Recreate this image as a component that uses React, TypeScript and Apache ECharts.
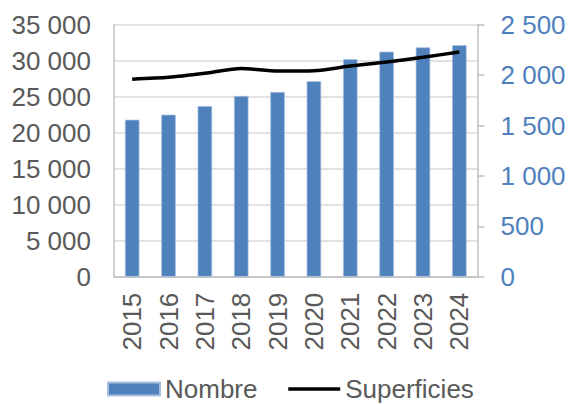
import React, { useEffect, useRef } from "react";
import * as echarts from "echarts";

const years = ["2015", "2016", "2017", "2018", "2019", "2020", "2021", "2022", "2023", "2024"];
const nombre = [21800, 22500, 23700, 25100, 25650, 27150, 30200, 31250, 31850, 32150];
const superficies = [1960, 1978, 2018, 2066, 2041, 2044, 2090, 2130, 2177, 2229];

const fmt = (v: number) => String(v).replace(/\B(?=(\d{3})+(?!\d))/g, " ");

export default function App() {
  const ref = useRef<HTMLDivElement>(null);
  useEffect(() => {
    if (!ref.current) return;
    const chart = echarts.init(ref.current, null, { renderer: "svg" });
    const font = "'Liberation Sans', Arial, sans-serif";
    chart.setOption({
      animation: false,
      textStyle: { fontFamily: font },
      grid: { left: 114, right: 91.5, top: 24.7, bottom: 127.3, containLabel: false },
      legend: {
        left: 107,
        top: 376,
        padding: 0,
        itemWidth: 52,
        itemHeight: 13,
        itemGap: 29,
        textStyle: { fontSize: 26, lineHeight: 26, color: "#595959", fontFamily: font },
        data: [
          { name: "Nombre", icon: "rect" },
          { name: "Superficies", itemStyle: { opacity: 0 }, lineStyle: { color: "#000", width: 3.5 } },
        ],
      },
      xAxis: {
        type: "category",
        data: years,
        axisLine: { lineStyle: { color: "#BFBFBF", width: 1.5 } },
        axisTick: { show: false },
        axisLabel: { rotate: 90, fontSize: 26, color: "#595959", margin: 16, fontFamily: font },
      },
      yAxis: [
        {
          type: "value",
          min: 0,
          max: 35000,
          interval: 5000,
          axisLine: { show: true, lineStyle: { color: "#BFBFBF", width: 1.5 } },
          axisTick: { show: false },
          splitLine: { lineStyle: { color: "#D9D9D9", width: 1.5 } },
          axisLabel: { fontSize: 26, color: "#595959", margin: 23, formatter: fmt, fontFamily: font },
        },
        {
          type: "value",
          position: "right",
          min: 0,
          max: 2500,
          interval: 500,
          axisLine: { show: true, lineStyle: { color: "#BFBFBF", width: 1.5 } },
          axisTick: { show: true, inside: false, length: 7, lineStyle: { color: "#BFBFBF", width: 1.5 } },
          splitLine: { show: false },
          axisLabel: { fontSize: 26, color: "#4F81BD", margin: 23, formatter: fmt, fontFamily: font },
        },
      ],
      series: [
        {
          name: "Nombre",
          type: "bar",
          data: nombre,
          barWidth: 14.5,
          itemStyle: { color: "#4F81BD", borderColor: "#A7C0DE", borderWidth: 0.7 },
        },
        {
          name: "Superficies",
          type: "line",
          yAxisIndex: 1,
          data: superficies,
          symbol: "none",
          smooth: 0.25,
          lineStyle: { color: "#000000", width: 3.5 },
          itemStyle: { color: "#000000" },
        },
      ],
    });
    return () => chart.dispose();
  }, []);
  return (
    <div
      ref={ref}
      style={{ position: "fixed", left: 0, top: 0, width: 569, height: 404, background: "#fff" }}
    />
  );
}
